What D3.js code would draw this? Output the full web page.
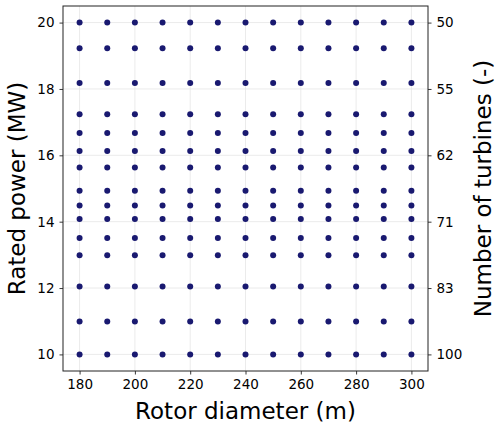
<!DOCTYPE html>
<html>
<head>
<meta charset="utf-8">
<script src="https://cdn.jsdelivr.net/npm/d3@7"></script>
<style>
    body { margin: 0; background: #fff; }
    text { font-family: "DejaVu Sans", sans-serif; fill: #000; }
</style>
</head>
<body>
<div id="container"></div>
<script>
// ---------------------------- DATA ----------------------------//
const rotorDiameters = [180, 190, 200, 210, 220, 230, 240, 250, 260, 270, 280, 290, 300];
const ratedPowers = [20, 19.23, 18.18, 17.24, 16.67, 16.13, 15.63, 14.93, 14.49, 14.08, 13.51, 12.99, 12.05, 10.99, 10];
const xTicks = [180, 200, 220, 240, 260, 280, 300];
const yTicks = [10, 12, 14, 16, 18, 20];
const turbineTickLabels = ["100", "83", "71", "62", "55", "50"];

// ---------------------------- SVG -----------------------------//
const width = 500, height = 428;
const margin = {top: 6, right: 72, bottom: 57, left: 63};

const svg = d3.select("#container").append("svg")
    .attr("width", width)
    .attr("height", height);

const x = d3.scaleLinear().domain([174, 306]).range([margin.left, width - margin.right]);
const y = d3.scaleLinear().domain([9.5, 20.5]).range([height - margin.bottom, margin.top]);

// grid
const grid = svg.append("g").attr("stroke", "#e6e6e6").attr("stroke-width", 0.8);
grid.selectAll(".gx").data(xTicks).enter().append("line")
    .attr("x1", d => x(d)).attr("x2", d => x(d))
    .attr("y1", y.range()[1]).attr("y2", y.range()[0]);
grid.selectAll(".gy").data(yTicks).enter().append("line")
    .attr("y1", d => y(d)).attr("y2", d => y(d))
    .attr("x1", x.range()[0]).attr("x2", x.range()[1]);

// points
const pts = [];
ratedPowers.forEach(p => rotorDiameters.forEach(d => pts.push({d: d, p: p})));
svg.append("g").selectAll("circle").data(pts).enter().append("circle")
    .attr("cx", d => x(d.d))
    .attr("cy", d => y(d.p))
    .attr("r", 3)
    .attr("fill", "#191970");

// axes
const fs = 13.5;
const xAxis = svg.append("g")
    .attr("transform", "translate(0," + y.range()[0] + ")")
    .call(d3.axisBottom(x).tickValues(xTicks).tickSize(3.5).tickPadding(5).tickSizeOuter(0));
const yAxis = svg.append("g")
    .attr("transform", "translate(" + x.range()[0] + ",0)")
    .call(d3.axisLeft(y).tickValues(yTicks).tickSize(3.5).tickPadding(5).tickSizeOuter(0));
const yAxisR = svg.append("g")
    .attr("transform", "translate(" + x.range()[1] + ",0)")
    .call(d3.axisRight(y).tickValues(yTicks).tickFormat((d, i) => turbineTickLabels[i])
        .tickSize(3.5).tickPadding(5).tickSizeOuter(0));
[xAxis, yAxis, yAxisR].forEach(a => {
    a.select(".domain").remove();
    a.selectAll("text").style("font-size", fs + "px").style("font-family", "DejaVu Sans").attr("fill", "#000");
    a.selectAll("line").attr("stroke", "#222").attr("stroke-width", 0.9);
});

// frame
svg.append("rect")
    .attr("x", x.range()[0]).attr("y", y.range()[1])
    .attr("width", x.range()[1] - x.range()[0])
    .attr("height", y.range()[0] - y.range()[1])
    .attr("fill", "none").attr("stroke", "#222").attr("stroke-width", 1);

// labels
const cx = (x.range()[0] + x.range()[1]) / 2;
const cy = (y.range()[0] + y.range()[1]) / 2;
svg.append("text")
    .attr("x", cx).attr("y", 419)
    .attr("text-anchor", "middle")
    .style("font-size", "23px")
    .text("Rotor diameter (m)");
svg.append("text")
    .attr("transform", "translate(25," + cy + ") rotate(-90)")
    .attr("text-anchor", "middle")
    .style("font-size", "23px")
    .text("Rated power (MW)");
svg.append("text")
    .attr("transform", "translate(491," + cy + ") rotate(-90)")
    .attr("text-anchor", "middle")
    .style("font-size", "23px")
    .text("Number of turbines (-)");
</script>
</body>
</html>
